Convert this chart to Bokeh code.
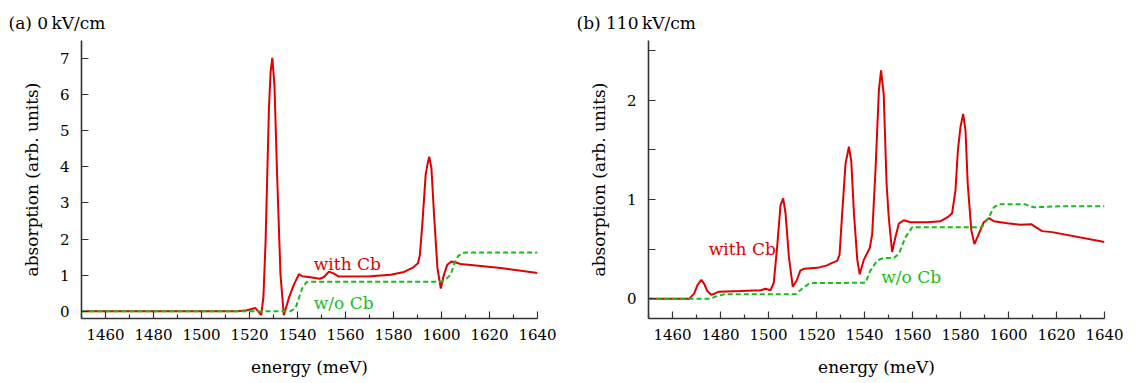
from bokeh.plotting import figure
from bokeh.models import Range1d, FixedTicker, Label, Title
from bokeh.layouts import row
from bokeh.embed import file_html
from bokeh.resources import INLINE

# ---------------- data ----------------
# panel (a) 0 kV/cm
a_with_E = [1450, 1515, 1519, 1522.5, 1524.9, 1525.8, 1526.7, 1528.1, 1528.8, 1529.5,
            1530.4, 1531.5, 1532.9, 1534.3, 1536.4, 1538.5, 1540.6, 1542.0, 1545.4, 1549.3,
            1551.0, 1553.1, 1555.0, 1557.2, 1570.5, 1578.8, 1584.4, 1587.9, 1590.2, 1591.0,
            1592.0, 1593.4, 1594.1, 1594.9, 1595.8, 1596.9, 1598.3, 1599.7, 1601.0, 1602.4,
            1604.1, 1605.9, 1608.0, 1624.7, 1640]
a_with_v = [0.0, 0.0, 0.03, 0.09, -0.11, 0.40, 1.93, 5.62, 6.63, 7.02,
            6.26, 3.78, 1.02, -0.11, 0.37, 0.74, 1.03, 0.97, 0.94, 0.90,
            0.95, 1.10, 1.05, 0.96, 0.97, 1.01, 1.09, 1.20, 1.33, 1.57,
            2.40, 3.78, 4.05, 4.28, 3.96, 2.67, 1.20, 0.63, 1.01, 1.29,
            1.38, 1.35, 1.31, 1.20, 1.06]
a_wo_E = [1450, 1537, 1539.2, 1540.6, 1542.0, 1543.8, 1545.4, 1599.7, 1601.7, 1603.8,
          1605.4, 1606.8, 1608.6, 1610, 1640]
a_wo_v = [0.0, 0.0, 0.09, 0.37, 0.64, 0.81, 0.82, 0.82, 0.88, 1.01,
          1.33, 1.52, 1.61, 1.63, 1.63]

# panel (b) 110 kV/cm
b_with_E = [1450, 1467, 1469, 1470.5, 1472, 1473.2, 1474.4, 1476.1, 1477.5, 1479.3,
            1488.3, 1496.7, 1498.75, 1500.8, 1502.2, 1503.6, 1505.0, 1506.1, 1507.1, 1508.5,
            1510.1, 1511.7, 1513.3, 1514.7, 1520.3, 1524.4, 1526.5, 1528.6, 1529.6, 1530.7,
            1532.1, 1533.5, 1534.5, 1535.6, 1537.0, 1538.0, 1539.7, 1542.2, 1543.2, 1544.6,
            1546.0, 1546.9, 1548.0, 1549.2, 1550.1, 1551.5, 1552.9, 1554.3, 1556.4, 1559.2,
            1566.1, 1571.7, 1574.7, 1576.5, 1577.9, 1578.9, 1580.0, 1581.1, 1582.1, 1583.0,
            1584.5, 1585.8, 1587.6, 1589.7, 1591.8, 1593.9, 1599.5, 1605.0, 1609.5, 1611.3,
            1614.0, 1618.2, 1640]
b_with_v = [0.0, 0.0, 0.05, 0.14, 0.19, 0.15, 0.08, 0.04, 0.05, 0.07,
            0.077, 0.084, 0.10, 0.084, 0.16, 0.52, 0.94, 1.01, 0.86, 0.42,
            0.12, 0.18, 0.285, 0.30, 0.31, 0.335, 0.36, 0.38, 0.44, 0.86,
            1.36, 1.53, 1.38, 0.86, 0.39, 0.245, 0.39, 0.51, 0.65, 1.30,
            2.10, 2.30, 2.06, 1.16, 0.82, 0.47, 0.62, 0.755, 0.79, 0.77,
            0.77, 0.78, 0.82, 0.86, 1.09, 1.49, 1.73, 1.86, 1.69, 1.16,
            0.69, 0.55, 0.65, 0.77, 0.81, 0.78, 0.76, 0.745, 0.75, 0.72,
            0.68, 0.67, 0.57]
b_wo_E = [1450, 1475.8, 1478, 1481.4, 1511.3, 1514.0, 1516.8, 1518, 1540.4, 1542.5,
          1545.3, 1548.0, 1552.2, 1554.3, 1557.1, 1559.9, 1589.0, 1591.8, 1593.9, 1596.0,
          1607.0, 1610.5, 1621.7, 1640]
b_wo_v = [0.0, 0.0, 0.02, 0.043, 0.043, 0.10, 0.15, 0.157, 0.16, 0.285,
          0.385, 0.41, 0.41, 0.45, 0.62, 0.72, 0.72, 0.82, 0.92, 0.95,
          0.95, 0.92, 0.93, 0.93]

x_ticks = [1460, 1480, 1500, 1520, 1540, 1560, 1580, 1600, 1620, 1640]
x_minor = [1450, 1470, 1490, 1510, 1530, 1550, 1570, 1590, 1610, 1630]
a_y_ticks = [0, 1, 2, 3, 4, 5, 6, 7]
b_y_ticks = [0, 1, 2]
b_y_minor = [0.5, 1.5, 2.5]

titles = ["(a) 0\u2009kV/cm", "(b) 110\u2009kV/cm"]
series_labels = ["with Cb", "w/o Cb"]

FONT = "DejaVu Serif"
RED = "#e00000"
GREEN = "#1cbb1c"
AX = "#333333"


def make_panel(width, bl, br, yr, yt, ym, wE, wv, oE, ov, title, lab_with, lab_wo, toff):
    p = figure(width=width, height=383, x_range=Range1d(1450, 1640), y_range=Range1d(*yr),
               output_backend="svg", toolbar_location=None,
               min_border_left=bl, min_border_right=br, min_border_top=40, min_border_bottom=65)
    p.outline_line_color = None
    p.grid.visible = False
    p.background_fill_color = "white"
    p.border_fill_color = "white"

    p.xaxis.ticker = FixedTicker(ticks=x_ticks, minor_ticks=x_minor)
    p.yaxis.ticker = FixedTicker(ticks=yt, minor_ticks=ym)
    for ax in (p.xaxis, p.yaxis):
        ax.axis_line_color = AX
        ax.axis_line_width = 1.6
        ax.major_tick_line_color = AX
        ax.minor_tick_line_color = AX
        ax.major_tick_line_width = 1.2
        ax.minor_tick_line_width = 1.2
        ax.major_tick_in = 7
        ax.major_tick_out = 0
        ax.major_label_text_font = FONT
        ax.major_label_text_font_size = "15px"
        ax.major_label_text_color = "black"
        ax.axis_label_text_font = FONT
        ax.axis_label_text_font_size = "17px"
        ax.axis_label_text_font_style = "normal"
        ax.axis_label_text_color = "black"
    p.xaxis.minor_tick_in = 4
    p.xaxis.minor_tick_out = 0
    p.yaxis.minor_tick_in = 7
    p.yaxis.minor_tick_out = 0
    p.xaxis.major_label_standoff = 10
    p.yaxis.major_label_standoff = 12
    p.xaxis.axis_label = "energy (meV)"
    p.yaxis.axis_label = "absorption (arb. units)"
    p.xaxis.axis_label_standoff = 14
    p.yaxis.axis_label_standoff = 15

    p.line(wE, wv, line_color=RED, line_width=2)
    p.line(oE, ov, line_color=GREEN, line_width=2, line_dash="5 3")

    p.add_layout(Label(x=lab_with[0], y=lab_with[1], text=series_labels[0], text_color=RED,
                       text_font=FONT, text_font_size="17px", text_baseline="alphabetic"))
    p.add_layout(Label(x=lab_wo[0], y=lab_wo[1], text=series_labels[1], text_color=GREEN,
                       text_font=FONT, text_font_size="17px", text_baseline="alphabetic"))
    # panel caption above the frame, shifted left to the canvas edge
    p.add_layout(Title(text=title, align="left", offset=toff, standoff=15,
                       text_font=FONT, text_font_size="17px", text_font_style="normal",
                       text_color="black"), "above")
    return p


pa = make_panel(570, 81, 33, (-0.2, 7.5), a_y_ticks, [], a_with_E, a_with_v, a_wo_E, a_wo_v,
                titles[0], (1546.8, 1.32), (1546.8, 0.23), -73)
pb = make_panel(571, 78, 37, (-0.2, 2.6), b_y_ticks, b_y_minor, b_with_E, b_with_v, b_wo_E, b_wo_v,
                titles[1], (1475.1, 0.50), (1547.0, 0.22), -72)

layout = row(pa, pb)
open("out.html", "w").write(file_html(layout, INLINE))
